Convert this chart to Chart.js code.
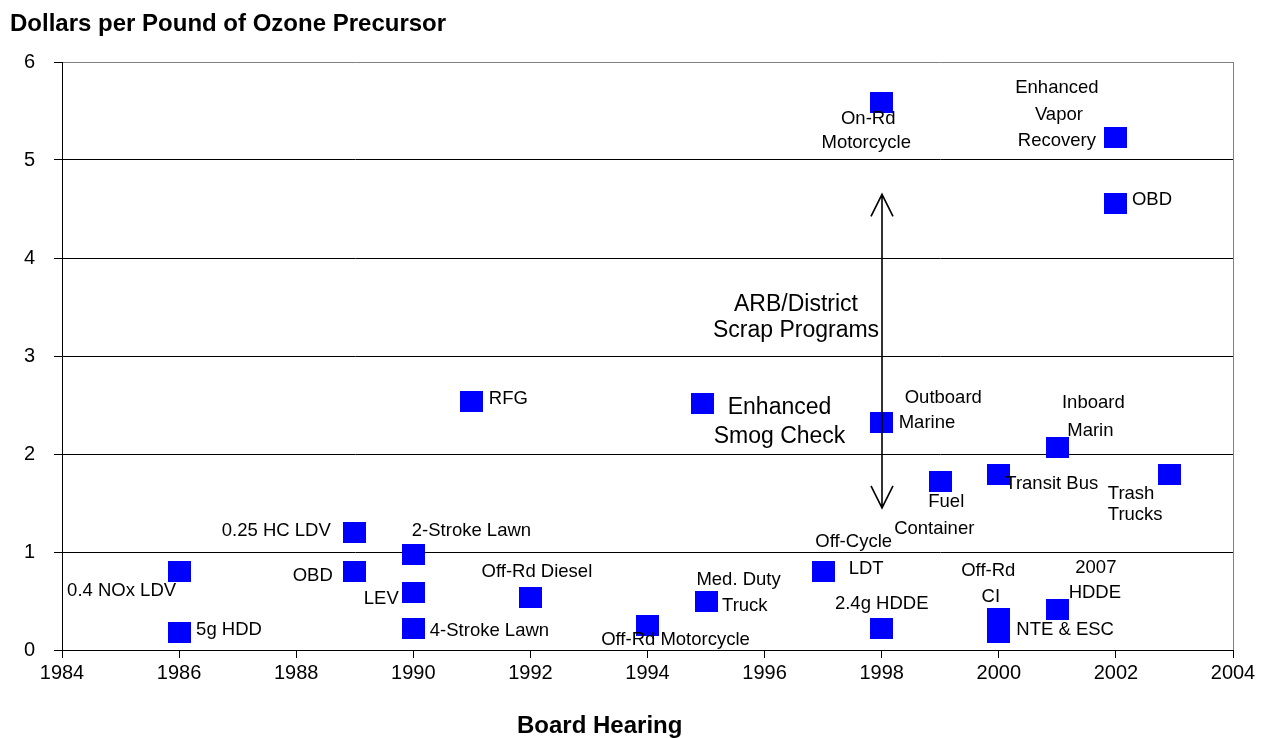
<!DOCTYPE html>
<html>
<head>
<meta charset="utf-8">
<script src="https://cdn.jsdelivr.net/npm/chart.js@4.4.1/dist/chart.umd.min.js"></script>
<style>
html, body { margin: 0; padding: 0; background: #fff; }
#wrap { width: 1262px; height: 738px; }
</style>
</head>
<body>
<div id="wrap"><canvas id="myChart" width="1262" height="738"></canvas></div>
<script>
// data
const programs = ['0.4 NOx LDV', '5g HDD', '0.25 HC LDV', 'OBD', '2-Stroke Lawn', 'LEV', '4-Stroke Lawn',
    'RFG', 'Off-Rd Diesel', 'Off-Rd Motorcycle', 'Enhanced Smog Check', 'Med. Duty Truck', 'Off-Cycle LDT',
    'On-Rd Motorcycle', 'Outboard Marine', '2.4g HDDE', 'Fuel Container', 'Transit Bus', 'Off-Rd CI',
    'NTE & ESC', 'Inboard Marin', '2007 HDDE', 'Enhanced Vapor Recovery', 'OBD', 'Trash Trucks'];
const hearingYear = [1986, 1986, 1989, 1989, 1990, 1990, 1990,
    1991, 1992, 1994, 1994.94, 1995, 1997,
    1998, 1998, 1998, 1999, 2000, 2000,
    2000, 2001, 2001, 2002, 2002, 2002.92];
const dollarsPerPound = [0.80, 0.18, 1.20, 0.80, 0.97, 0.59, 0.22,
    2.535, 0.54, 0.245, 2.515, 0.49, 0.80,
    5.59, 2.32, 0.22, 1.72, 1.79, 0.32,
    0.175, 2.065, 0.41, 5.23, 4.56, 1.79];
const xTicks = [1984, 1986, 1988, 1990, 1992, 1994, 1996, 1998, 2000, 2002, 2004];
const yTicks = [0, 1, 2, 3, 4, 5, 6];
const scrapYear = 1998;
const scrapRange = [1.45, 4.65];
const scrapText = ['ARB/District', 'Scrap Programs'];
const yTitle = 'Dollars per Pound of Ozone Precursor';
const xTitle = 'Board Hearing';

// label placement: [point, text, dx, dy, align, size]
const labelPlace = [
    [0, '0.4 NOx LDV', -3, 19, 'right', 18.5],
    [1, '5g HDD', 17, -2, 'left', 18.5],
    [2, '0.25 HC LDV', -24, -1, 'right', 18.5],
    [3, 'OBD', -22, 4.5, 'right', 18.5],
    [4, '2-Stroke Lawn', -1.5, -24.5, 'left', 18.5],
    [5, 'LEV', -14.5, 6.5, 'right', 18.5],
    [6, '4-Stroke Lawn', 16.5, 2.5, 'left', 18.5],
    [7, 'RFG', 17, -2.5, 'left', 18.5],
    [8, 'Off-Rd Diesel', 6.5, -25, 'center', 18.5],
    [9, 'Off-Rd Motorcycle', 28, 13.5, 'center', 18.5],
    [10, 'Enhanced', 77, 4.5, 'center', 23],
    [10, 'Smog Check', 77, 33, 'center', 23],
    [11, 'Med. Duty', 32.5, -22.5, 'center', 18.5],
    [11, 'Truck', 16, 3.5, 'left', 18.5],
    [12, 'Off-Cycle', 30.5, -30, 'center', 18.5],
    [12, 'LDT', 43, -2.5, 'center', 18.5],
    [13, 'On-Rd', -13.5, 16.5, 'center', 18.5],
    [13, 'Motorcycle', -15.5, 40.5, 'center', 18.5],
    [14, 'Outboard', 23, -25, 'left', 18.5],
    [14, 'Marine', 17, 0, 'left', 18.5],
    [15, '2.4g HDDE', 0, -25, 'center', 18.5],
    [16, 'Fuel', -12, 20, 'left', 18.5],
    [16, 'Container', -6, 47, 'center', 18.5],
    [17, 'Transit Bus', 6.5, 9, 'left', 18.5],
    [18, 'Off-Rd', -10.5, -48, 'center', 18.5],
    [18, 'CI', -8, -21.5, 'center', 18.5],
    [19, 'NTE & ESC', 17.5, -2.5, 'left', 18.5],
    [20, 'Inboard', 36, -45, 'center', 18.5],
    [20, 'Marin', 33, -17, 'center', 18.5],
    [21, '2007', 38.5, -42, 'center', 18.5],
    [21, 'HDDE', 37.5, -17, 'center', 18.5],
    [22, 'Enhanced', -59, -50, 'center', 18.5],
    [22, 'Vapor', -57, -23, 'center', 18.5],
    [22, 'Recovery', -59, 3.5, 'center', 18.5],
    [23, 'OBD', 16, -3.5, 'left', 18.5],
    [24, 'Trash', -62, 19.5, 'left', 18.5],
    [24, 'Trucks', -62, 40.5, 'left', 18.5],
];

const FONT = '"Liberation Sans", Arial, sans-serif';
Chart.defaults.font.family = FONT;
Chart.defaults.color = '#000';

// blue square marker
const marker = document.createElement('canvas');
marker.width = 23;
marker.height = 21;
const mctx = marker.getContext('2d');
mctx.fillStyle = '#0000ff';
mctx.fillRect(0, 0, 23, 21);

const extras = {
    id: 'extras',
    afterDatasetsDraw(chart) {
        const c = chart.ctx;
        const meta = chart.getDatasetMeta(0);
        const xs = chart.scales.x, ys = chart.scales.y;
        c.save();
        c.fillStyle = '#000';
        c.textBaseline = 'middle';
        labelPlace.forEach(function (l) {
            const p = meta.data[l[0]];
            c.font = l[5] + 'px ' + FONT;
            c.textAlign = l[4];
            c.fillText(l[1], p.x + l[2], p.y + l[3]);
        });

        // scrap programs arrow
        const ax = Math.round(xs.getPixelForValue(scrapYear));
        const y1 = ys.getPixelForValue(scrapRange[0]);
        const y2 = ys.getPixelForValue(scrapRange[1]);
        c.strokeStyle = '#000';
        c.lineWidth = 1.6;
        c.beginPath();
        c.moveTo(ax, y1); c.lineTo(ax, y2);
        c.moveTo(ax - 11, y2 + 22); c.lineTo(ax, y2); c.lineTo(ax + 11, y2 + 22);
        c.moveTo(ax - 11, y1 - 22); c.lineTo(ax, y1); c.lineTo(ax + 11, y1 - 22);
        c.stroke();
        const mid = (y1 + y2) / 2;
        c.font = '23px ' + FONT;
        c.textAlign = 'center';
        c.fillText(scrapText[0], ax - 86, mid - 46.5);
        c.fillText(scrapText[1], ax - 86, mid - 20);

        // titles
        c.font = 'bold 24px ' + FONT;
        c.textAlign = 'left';
        c.textBaseline = 'alphabetic';
        c.fillText(yTitle, 10, 31);
        c.fillText(xTitle, 517, 733);
        c.restore();
    }
};

const ctx = document.getElementById('myChart').getContext('2d');
const myChart = new Chart(ctx, {
    type: 'scatter',
    data: {
        datasets: [{
            label: 'Programs',
            data: hearingYear.map((x, i) => ({ x: x, y: dollarsPerPound[i] })),
            pointStyle: marker,
            pointRadius: 12,
            pointHoverRadius: 12
        }]
    },
    options: {
        responsive: false,
        animation: false,
        devicePixelRatio: 1,
        layout: { padding: { top: 62, right: 29, left: 0, bottom: 0 } },
        plugins: {
            legend: { display: false },
            tooltip: { enabled: false }
        },
        scales: {
            x: {
                type: 'linear',
                min: 1984,
                max: 2004,
                afterBuildTicks: s => { s.ticks = xTicks.map(v => ({ value: v })); },
                afterFit: s => { s.height = 88; },
                ticks: {
                    font: { size: 20 },
                    color: '#000',
                    padding: 3,
                    callback: v => String(v)
                },
                grid: {
                    color: c => (c.tick && c.tick.value === 2004) ? '#808080' : 'rgba(0,0,0,0)',
                    tickColor: '#000',
                    tickLength: 8,
                    lineWidth: 1
                },
                border: { color: '#000', width: 1 }
            },
            y: {
                min: 0,
                max: 6,
                afterBuildTicks: s => { s.ticks = yTicks.map(v => ({ value: v })); },
                afterFit: s => { s.width = 62; },
                ticks: {
                    font: { size: 20 },
                    color: '#000',
                    padding: 19
                },
                grid: {
                    color: c => (c.tick && c.tick.value === 6) ? '#808080' : '#000',
                    tickColor: '#000',
                    tickLength: 8,
                    lineWidth: 1
                },
                border: { color: '#000', width: 1 }
            }
        }
    },
    plugins: [extras]
});
</script>
</body>
</html>
